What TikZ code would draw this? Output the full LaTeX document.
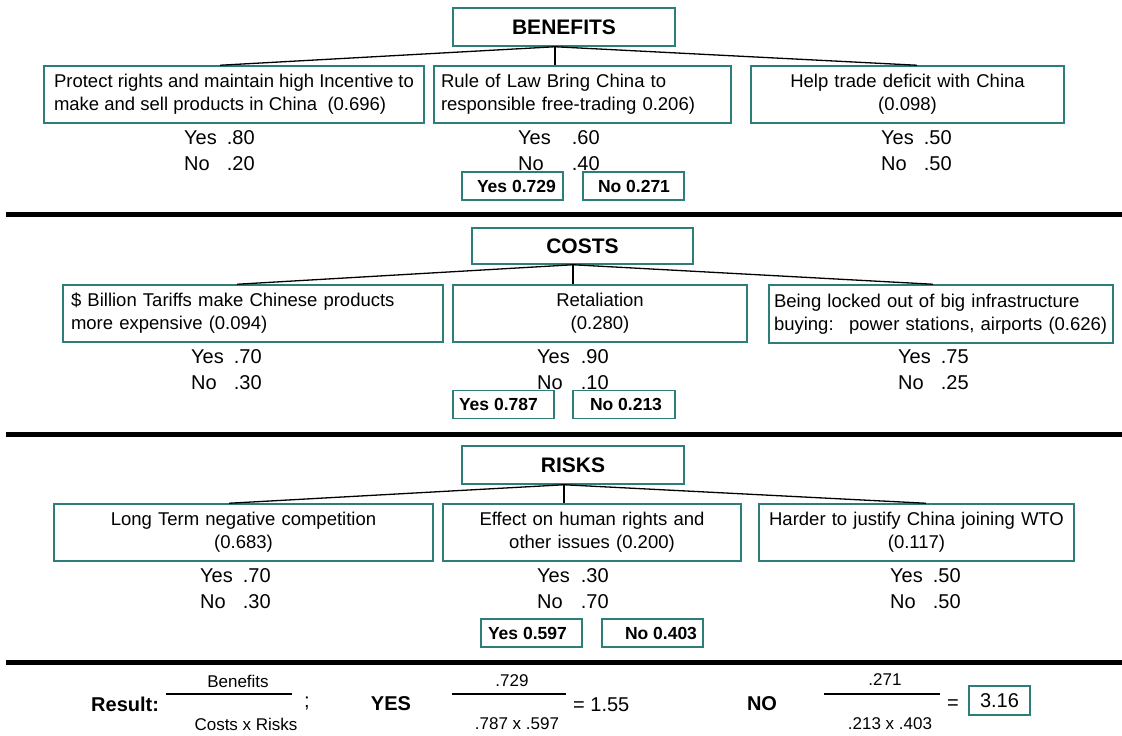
\documentclass[tikz,border=0pt]{standalone}
\usepackage{fontspec}
\setmainfont{Liberation Sans}
\definecolor{edge}{RGB}{45,125,120}
\begin{document}
\begin{tikzpicture}[x=1pt,y=-1pt,
  box/.style={draw=edge, line width=1.5pt, inner sep=0pt, minimum height=57pt,
              font=\fontsize{18.5}{23}\selectfont},
  head/.style={draw=edge, line width=1.5pt, inner sep=0pt,
               font=\fontsize{21}{25}\selectfont\bfseries},
  yn/.style={inner sep=0pt, anchor=base west, font=\fontsize{20}{26}\selectfont},
  tag/.style={draw=edge, line width=1.5pt, inner sep=0pt, minimum height=28pt,
              font=\fontsize{17.5}{20}\selectfont\bfseries},
  conn/.style={line width=1.3pt},
  bar/.style={line width=5pt},
  frac/.style={inner sep=0pt, font=\fontsize{17}{20}\selectfont},
  fracline/.style={line width=1.3pt},
  big/.style={inner sep=0pt, font=\fontsize{20}{24}\selectfont\bfseries},
  plain/.style={inner sep=0pt, font=\fontsize{20}{24}\selectfont}
]
\useasboundingbox (0,0) rectangle (1122,736);

% ---------------- Benefits ----------------
\node[head, minimum width=222pt, minimum height=38pt] (hb) at (564,27) {BENEFITS};
\node[box, minimum width=380pt, align=left] (b1) at (234,94.5)
  {Protect rights and maintain high Incentive to\\make and sell products in China~ (0.696)};
\node[box, minimum width=297pt, text width=283pt, align=left] (b2) at (582.5,94.5)
  {Rule of Law Bring China to\\responsible free-trading 0.206)};
\node[box, minimum width=313pt, text width=305pt, align=center] (b3) at (907.5,94.5)
  {Help trade deficit with China\\(0.098)};
\coordinate (jb) at ([xshift=-9pt]hb.south);
\draw[conn] (jb) -- ([xshift=-14pt]b1.north);
\draw[conn] (jb) -- (jb |- b2.north);
\draw[conn] (jb) -- ([xshift=9.5pt]b3.north);

\node[yn] (ynb1) at (184,144) {\begin{tabular}[t]{@{}l@{\hspace{10pt}}l@{}}Yes & .80\\No & .20\end{tabular}};
\node[yn] (ynb2) at (518,144) {\begin{tabular}[t]{@{}l@{\hspace{21pt}}l@{}}Yes & .60\\No & .40\end{tabular}};
\node[yn] (ynb3) at (881,144) {\begin{tabular}[t]{@{}l@{\hspace{10pt}}l@{}}Yes & .50\\No & .50\end{tabular}};

\node[tag] (tby) at (512.5,186) {\makebox[101pt][l]{\hspace{15pt}Yes 0.729}};
\node[tag] (tbn) at (633.5,186) {\makebox[101pt][l]{\hspace{15pt}No 0.271}};

\coordinate (bar1a) at (6,214.5);
\coordinate (bar1b) at (1122,214.5);
\draw[bar] (bar1a) -- (bar1b);

% ---------------- Costs ----------------
\node[head, minimum width=221pt, minimum height=36pt] (hc) at (582.5,246) {COSTS};
\node[box, minimum width=380pt, text width=364pt, align=left] (c1) at (253,313.5)
  {\$ Billion Tariffs make Chinese products\\more expensive (0.094)};
\node[box, minimum width=294pt, text width=286pt, align=center] (c2) at (600,313.5)
  {Retaliation\\(0.280)};
\node[box, minimum width=344pt, minimum height=58pt, text width=334pt, align=left] (c3) at (941,314)
  {Being locked out of big infrastructure\\buying:~ power stations, airports (0.626)};
\coordinate (jc) at ([xshift=-9.5pt]hc.south);
\draw[conn] (jc) -- ([xshift=-16pt]c1.north);
\draw[conn] (jc) -- (jc |- c2.north);
\draw[conn] (jc) -- ([xshift=-8pt]c3.north);

\node[yn] (ync1) at (191,363) {\begin{tabular}[t]{@{}l@{\hspace{10pt}}l@{}}Yes & .70\\No & .30\end{tabular}};
\node[yn] (ync2) at (537,363) {\begin{tabular}[t]{@{}l@{\hspace{11pt}}l@{}}Yes & .90\\No & .10\end{tabular}};
\node[yn] (ync3) at (898,363) {\begin{tabular}[t]{@{}l@{\hspace{10pt}}l@{}}Yes & .75\\No & .25\end{tabular}};

\node[tag] (tcy) at (503.5,404.5) {\makebox[101pt][l]{\hspace{6pt}Yes 0.787}};
\node[tag] (tcn) at (624,404.5) {\makebox[102pt][l]{\hspace{17pt}No 0.213}};

\coordinate (bar2a) at (6,434);
\coordinate (bar2b) at (1122,434);
\draw[bar] (bar2a) -- (bar2b);

% ---------------- Risks ----------------
\node[head, minimum width=222pt, minimum height=38pt] (hr) at (573,465) {RISKS};
\node[box, minimum width=379pt, text width=371pt, align=center] (r1) at (243.5,532.5)
  {Long Term negative competition\\(0.683)};
\node[box, minimum width=298pt, text width=290pt, align=center] (r2) at (592,532.5)
  {Effect on human rights and\\other issues (0.200)};
\node[box, minimum width=315pt, text width=307pt, align=center] (r3) at (916.5,532.5)
  {Harder to justify China joining WTO\\(0.117)};
\coordinate (jr) at ([xshift=-9pt]hr.south);
\draw[conn] (jr) -- ([xshift=-14.5pt]r1.north);
\draw[conn] (jr) -- (jr |- r2.north);
\draw[conn] (jr) -- ([xshift=9.5pt]r3.north);

\node[yn] (ynr1) at (200,582) {\begin{tabular}[t]{@{}l@{\hspace{10pt}}l@{}}Yes & .70\\No & .30\end{tabular}};
\node[yn] (ynr2) at (537,582) {\begin{tabular}[t]{@{}l@{\hspace{11pt}}l@{}}Yes & .30\\No & .70\end{tabular}};
\node[yn] (ynr3) at (890,582) {\begin{tabular}[t]{@{}l@{\hspace{10pt}}l@{}}Yes & .50\\No & .50\end{tabular}};

\node[tag] (try) at (531.5,633) {\makebox[101pt][l]{\hspace{7pt}Yes 0.597}};
\node[tag] (trn) at (652.5,633) {\makebox[101pt][l]{\hspace{23pt}No 0.403}};

\coordinate (bar3a) at (6,662);
\coordinate (bar3b) at (1122,662);
\draw[bar] (bar3a) -- (bar3b);

% ---------------- Result ----------------
\node[big, anchor=west] (res) at (91,704) {Result:};
\node[frac] (n0) at (238,681) {Benefits};
\node[frac] (d0) at (246,724) {Costs x Risks};
\coordinate (l0a) at (166,694);
\coordinate (l0b) at (292,694);
\draw[fracline] (l0a) -- (l0b);
\node[plain] (semi) at (307,703) {;};

\node[big] (yes) at (391,704) {YES};
\node[frac] (n1) at (512,681) {.729};
\node[frac] (d1) at (517,724) {.787 x .597};
\coordinate (l1a) at (452,694);
\coordinate (l1b) at (566,694);
\draw[fracline] (l1a) -- (l1b);
\node[plain, anchor=west] (eq1) at (573,705) {= 1.55};

\node[big] (no) at (762,704) {NO};
\node[frac] (n2) at (885,680) {.271};
\node[frac] (d2) at (890,724) {.213 x .403};
\coordinate (l2a) at (824,694);
\coordinate (l2b) at (940,694);
\draw[fracline] (l2a) -- (l2b);
\node[plain] (eq2) at (953,705) {=};
\node[draw=edge, line width=1.5pt, inner sep=0pt, minimum width=61pt, minimum height=29pt,
      font=\fontsize{20}{24}\selectfont] (ans) at (999.5,700.5) {3.16};
\end{tikzpicture}
\end{document}
